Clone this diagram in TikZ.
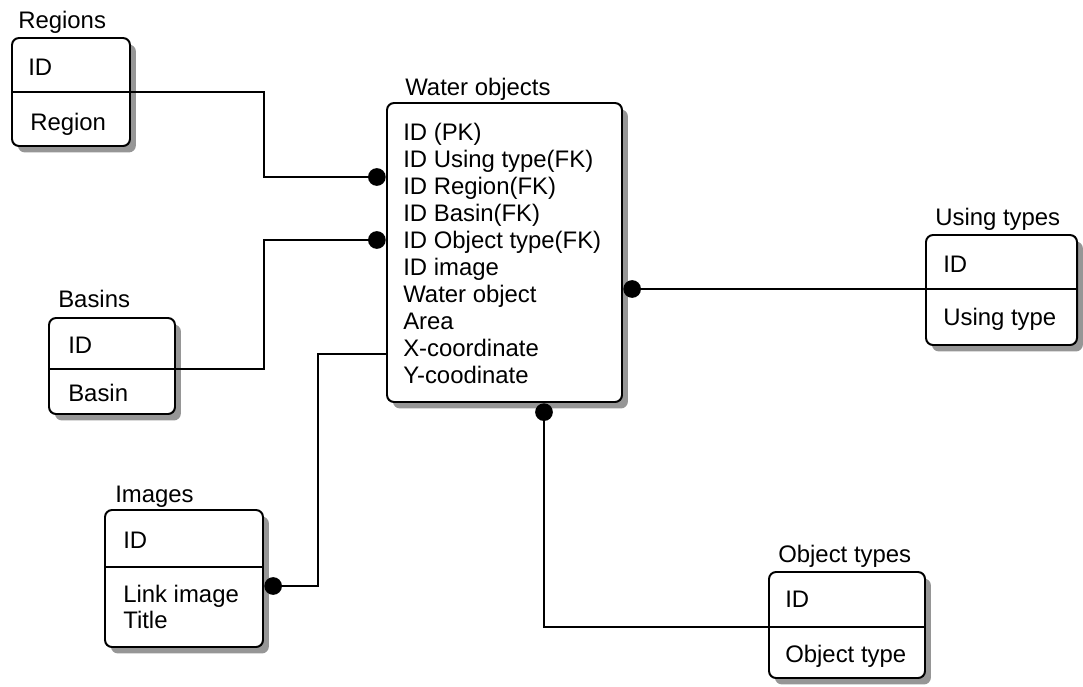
\documentclass[tikz,border=0pt]{standalone}
\usepackage{fontspec}
\setmainfont{Liberation Sans}
\usepackage{tikz}
\usetikzlibrary{fit,shadows}

\tikzset{
  tbl/.style={draw, line width=1.4pt, rounded corners=5pt, fill=white, inner sep=0pt,
    drop shadow={shadow xshift=4.2pt, shadow yshift=-4.6pt, fill=black!55, opacity=0.75}},
  fld/.style={anchor=base west, inner sep=0pt, font=\fontsize{17}{19.2}\selectfont},
  sep/.style={line width=1.3pt},
  link/.style={line width=1.1pt},
  fkdot/.style={circle, fill=black, inner sep=0pt, minimum size=12.6pt}
}

\begin{document}
\begin{tikzpicture}[x=0.025cm,y=-0.025cm]
\useasboundingbox (0,0) rectangle (1083,686);

% tables
\node[tbl, fit={(12,38) (130,146)}] (regions) {};
\node[tbl, fit={(387,103) (622,402)}] (wobj) {};
\node[tbl, fit={(49,318) (175,414)}] (basins) {};
\node[tbl, fit={(105,510) (263,647)}] (images) {};
\node[tbl, fit={(926,235) (1077,345)}] (usingt) {};
\node[tbl, fit={(769,572) (925,678)}] (objt) {};

% separators
\coordinate (regsep) at (regions.east |- 0,92);
\coordinate (bassep) at (basins.east |- 0,369);
\coordinate (imgsep) at (images.east |- 0,567);
\coordinate (usesep) at (usingt.west |- 0,289);
\coordinate (objsep) at (objt.west |- 0,627);
\draw[sep] (regions.west |- regsep) -- (regsep);
\draw[sep] (basins.west |- bassep) -- (bassep);
\draw[sep] (images.west |- imgsep) -- (imgsep);
\draw[sep] (usesep) -- (usingt.east |- usesep);
\draw[sep] (objsep) -- (objt.east |- objsep);

% titles
\node[fld] (tregions) at (18,28) {Regions};
\node[fld] (twobj) at (405,95) {Water objects};
\node[fld] (tbasins) at (58,307) {Basins};
\node[fld] (timages) at (115,502) {Images};
\node[fld] (tusingt) at (935,225) {Using types};
\node[fld] (tobjt) at (778,562) {Object types};

% fields
\node[fld] (regid) at (28,75) {ID};
\node[fld] (regname) at (30,130) {Region};
\node[fld] (basid) at (68,353) {ID};
\node[fld] (basname) at (68,401) {Basin};
\node[fld] (imgid) at (123,548) {ID};
\node[fld] (imglink) at (123,602) {Link image};
\node[fld] (imgtitle) at (123,628) {Title};
\node[fld] (useid) at (943,272) {ID};
\node[fld] (usename) at (943,325) {Using type};
\node[fld] (objid) at (785,607) {ID};
\node[fld] (objname) at (785,662) {Object type};
\foreach \txt [count=\i from 0] in {ID (PK), ID Using type(FK), ID Region(FK),
    ID Basin(FK), ID Object type(FK), ID image, Water object, Area,
    X-coordinate, Y-coodinate}
  \node[fld] (wf\i) at (403,140+27*\i) {\txt};

% keys
\node[fkdot, anchor=east] (dreg) at (wobj.west |- 0,177) {};
\node[fkdot, anchor=east] (dbas) at (wobj.west |- 0,240) {};
\node[fkdot, anchor=west] (duse) at (wobj.east |- usesep) {};
\node[fkdot, anchor=north] (dobj) at (wobj.south -| 544,0) {};
\node[fkdot, anchor=west] (dimg) at (images.east |- 0,586) {};

% links
\draw[link] (regsep) -- ++(133,0) |- (dreg.center);
\draw[link] (bassep) -- ++(88,0) |- (dbas.center);
\draw[link] (duse.center) -- (usesep);
\draw[link] (dobj.center) |- (objsep);
\draw[link] (dimg.center) -- ++(45,0) |- (wobj.west |- 0,354);
\end{tikzpicture}
\end{document}
